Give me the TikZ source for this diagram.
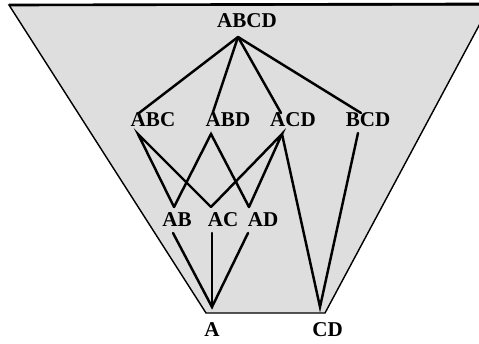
\documentclass[tikz,border=0pt]{standalone}
\usepackage{fontspec}
\setmainfont{Liberation Serif}
\usetikzlibrary{positioning}

\begin{document}
\begin{tikzpicture}[x=0.02cm,y=-0.02cm,
  lbl/.style={inner sep=0pt,font=\fontsize{12}{14}\selectfont\bfseries},
  edge/.style={line width=1.4pt,line cap=round}]
\useasboundingbox (0,0) rectangle (479,344);
\begin{scope}
\clip (0,0) rectangle (479,344);
\filldraw[fill=black!13,line width=0.8pt] (9,5) -- (490,5) -- (325,313) -- (206,313) -- cycle;
\draw[line width=1.5pt] (9,5) -- (479,4);
\end{scope}
% labels
\node[lbl] (abcd) at (247,21) {ABCD};
\node[lbl] (abc) at (153,120) {ABC};
\node[lbl] (abd) at (228,120) {ABD};
\node[lbl] (acd) at (293,120) {ACD};
\node[lbl] (bcd) at (368,120) {BCD};
\node[lbl] (ab) at (177,220) {AB};
\node[lbl] (ac) at (223,220) {AC};
\node[lbl] (ad) at (263,220) {AD};
\coordinate (a) at (212,307);
\coordinate (cd) at (320,307);
\node[lbl,below=0.31cm of a] (a-lbl) {A};
\node[lbl,below=0.31cm of cd,xshift=0.15cm] (cd-lbl) {CD};
% end points of the lines
\coordinate (abcd-b) at (238,37);
\coordinate (abc-t) at (139,113);
\coordinate (abc-b) at (138,134);
\coordinate (abd-t) at (213,112);
\coordinate (abd-b) at (211,134);
\coordinate (acd-t) at (281,113);
\coordinate (acd-b) at (282,134);
\coordinate (bcd-t) at (361,113);
\coordinate (bcd-b) at (358,133);
\coordinate (ab-t) at (174,207);
\coordinate (ab-b) at (173,233);
\coordinate (ac-t) at (211,207);
\coordinate (ac-b) at (212,233);
\coordinate (ad-t) at (249,207);
\coordinate (ad-b) at (248,233);
% lattice
\foreach \x in {abc,abd,acd,bcd}
  \draw[edge] (abcd-b) -- (\x-t);
\draw[edge] (ab-t) -- (abc-b) -- (ac-t);
\draw[edge] (ab-t) -- (abd-b) -- (ad-t);
\draw[edge] (ac-t) -- (acd-b) -- (ad-t);
\draw[edge] (acd-b) -- (cd) -- (bcd-b);
\draw[edge] (ab-b) -- (a) -- (ad-b);
\draw[edge] (ac-b) -- (a);
\end{tikzpicture}
\end{document}
